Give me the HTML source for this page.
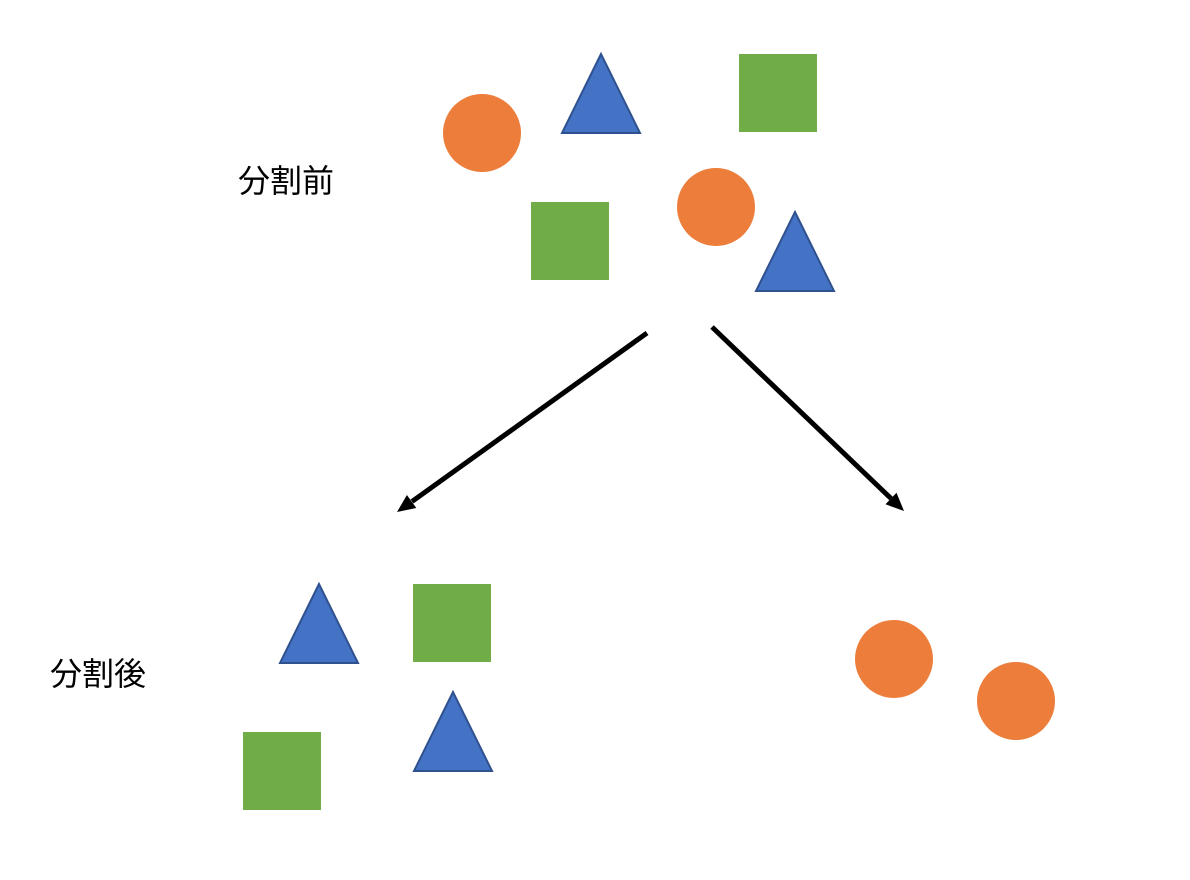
<!DOCTYPE html>
<html>
<head>
<meta charset="utf-8">
<style>
html,body{margin:0;padding:0;background:#fff;}
svg{display:block;}
text{font-family:"Liberation Sans","Noto Sans CJK JP",sans-serif;font-size:32px;fill:#000;}
</style>
</head>
<body>
<svg width="1190" height="880" viewBox="0 0 1190 880">
<text x="238" y="192">分割前</text>
<text x="50" y="685">分割後</text>

<circle cx="482" cy="133" r="39" fill="#ED7D3A"/>
<polygon points="601,54 562,133 640,133" fill="#4472C4" stroke="#2F528F" stroke-width="2"/>
<rect x="739" y="54" width="78" height="78" fill="#70AD47"/>
<rect x="531" y="202" width="78" height="78" fill="#70AD47"/>
<circle cx="716" cy="207" r="39" fill="#ED7D3A"/>
<polygon points="795,212 756,291 834,291" fill="#4472C4" stroke="#2F528F" stroke-width="2"/>

<g>
<line x1="647" y1="333" x2="412" y2="501.5" stroke="#000" stroke-width="5"/>
<polygon points="397,512 416.3,508 406.9,495" fill="#000"/>
</g>
<g>
<line x1="712" y1="327" x2="891" y2="498.5" stroke="#000" stroke-width="5"/>
<polygon points="904,511 885.5,504.3 896.5,492.7" fill="#000"/>
</g>

<polygon points="319,584 280,663 358,663" fill="#4472C4" stroke="#2F528F" stroke-width="2"/>
<rect x="413" y="584" width="78" height="78" fill="#70AD47"/>
<polygon points="453,692 414,771 492,771" fill="#4472C4" stroke="#2F528F" stroke-width="2"/>
<rect x="243" y="732" width="78" height="78" fill="#70AD47"/>
<circle cx="894" cy="659" r="39" fill="#ED7D3A"/>
<circle cx="1016" cy="701" r="39" fill="#ED7D3A"/>
</svg>
</body>
</html>
